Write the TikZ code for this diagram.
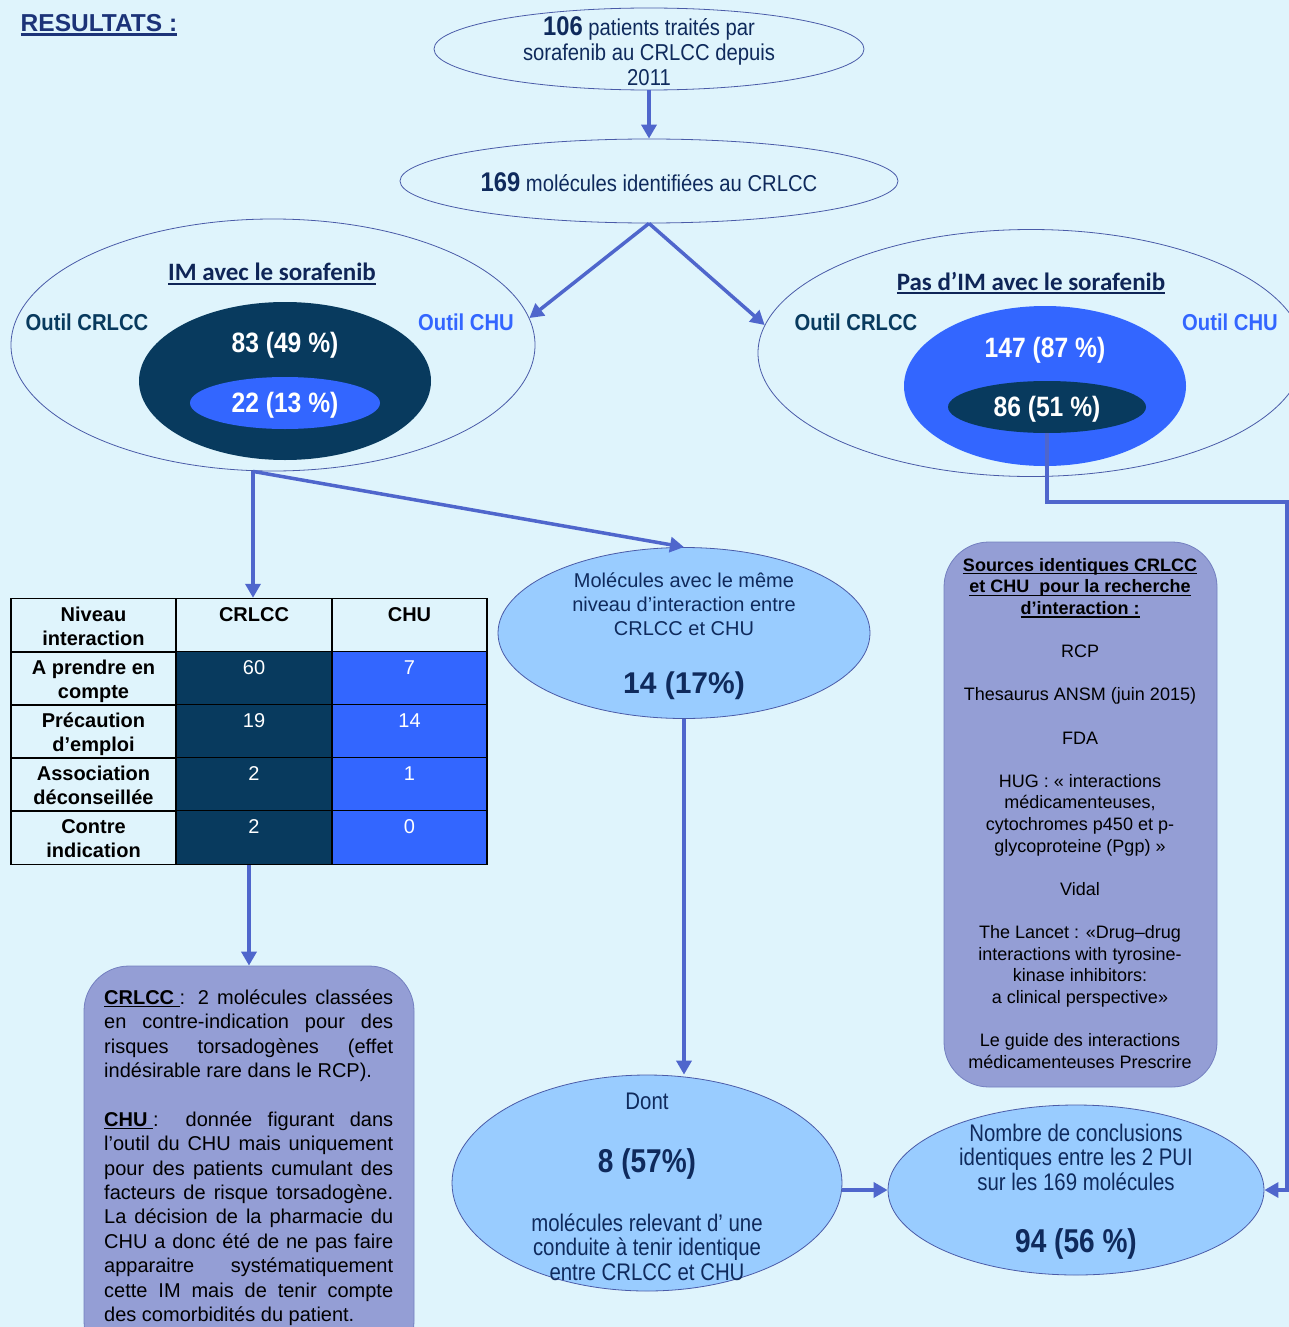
\documentclass[tikz,border=0pt]{standalone}
\usepackage{fontspec}
\setmainfont{Liberation Sans}
\newfontfamily\narrowA[FakeStretch=0.88]{Liberation Sans}
\newfontfamily\narrowB[FakeStretch=0.85]{Liberation Sans}
\newfontfamily\calib{Carlito}
\usetikzlibrary{shapes.geometric,arrows.meta,calc}
\definecolor{bgc}{HTML}{DFF4FC}
\definecolor{navy}{HTML}{083A5E}
\definecolor{bright}{HTML}{3366FF}
\definecolor{arrc}{HTML}{4F66CC}
\definecolor{lightc}{HTML}{99CCFF}
\definecolor{boxc}{HTML}{949ED5}
\definecolor{boxline}{HTML}{7480C0}
\definecolor{ellc}{HTML}{4A5BA8}
\definecolor{txtnavy}{HTML}{0F2A5C}
\definecolor{titlec}{HTML}{0F2557}
\definecolor{resc}{HTML}{1C3378}
\newcommand\myul[3]{\setbox0=\hbox{#3}\leavevmode\rlap{\rule[-#1]{\wd0}{#2}}\box0}
\newcommand\tstrut{\rule{0pt}{23pt}}
\begin{document}
\begin{tikzpicture}[x=1pt,y=-1pt,
  outell/.style={ellipse, draw=ellc, line width=0.8pt, inner sep=0},
  fillell/.style={ellipse, inner sep=0},
  lightell/.style={ellipse, draw=ellc, line width=0.8pt, fill=lightc, inner sep=0},
  arr/.style={draw=arrc, line width=3.5pt, -{Triangle[length=14pt,width=15pt]}},
  conn/.style={draw=arrc, line width=3.2pt, -{Triangle[length=14pt,width=15pt]}},
  tbox/.style={rectangle, rounded corners=45pt, draw=boxline, line width=0.8pt, fill=boxc, inner sep=0},
  lab/.style={rectangle, draw=black, line width=1.2pt, inner sep=0, minimum height=53, align=center, font=\fontsize{20}{24}\selectfont\bfseries, text=black},
  colA/.style={minimum width=165},
  colB/.style={minimum width=156},
  colC/.style={minimum width=155},
  darkcell/.style={fill=navy, text=white, font=\fontsize{20}{24}\selectfont},
  brightcell/.style={fill=bright, text=white, font=\fontsize{20}{24}\selectfont},
  outil/.style={font=\fontsize{23}{26}\selectfont\narrowA\bfseries, inner sep=0},
  bignum/.style={font=\fontsize{28}{30}\selectfont\narrowA\bfseries, text=white, inner sep=0},
  titl/.style={font=\fontsize{25}{30}\selectfont\calib\bfseries, text=titlec, inner sep=0}
]
\useasboundingbox (0,0) rectangle (1289,1327);
\clip (0,0) rectangle (1289,1327);
\fill[bgc] (0,0) rectangle (1289,1327);

% title
\node[font=\fontsize{24.5}{27}\selectfont\bfseries, text=resc, inner sep=0] (res) at (99,25) {\myul{4pt}{2.2pt}{RESULTATS :}};

% top ellipses
\node[outell, minimum width=430, minimum height=82] (e1) at (649,49) {};
\node[align=center, inner sep=0, text=txtnavy, font=\fontsize{23}{25}\selectfont\narrowA] (t1) at (649,51)
  {{\fontsize{27}{25}\selectfont\bfseries 106} patients traités par\\sorafenib au CRLCC depuis\\2011};
\node[outell, minimum width=498, minimum height=84] (e2) at (649,181) {};
\node[inner sep=0, text=txtnavy, font=\fontsize{23}{25}\selectfont\narrowA] (t2) at (649,182)
  {{\fontsize{27}{25}\selectfont\bfseries 169} molécules identifiées au CRLCC};

% left big ellipse
\node[outell, minimum width=524, minimum height=252] (L) at (273,345) {};
\node[titl] (Lt) at (272,274) {\myul{4pt}{1.6pt}{IM avec le sorafenib}};
\node[outil, text=navy] (Lo1) at (87,322) {Outil CRLCC};
\node[outil, text=bright] (Lo2) at (466,322) {Outil CHU};
\node[fillell, fill=navy, minimum width=292, minimum height=158] (Ld) at (285,381) {};
\node[bignum] (Ln) at (285,345) {83 (49 \%)};
\node[fillell, fill=bright, minimum width=190, minimum height=52] (Lb) at (285,403) {};
\node[bignum] (Lbn) at (285,405) {22 (13 \%)};

% right big ellipse
\node[outell, minimum width=546, minimum height=247] (R) at (1031,353) {};
\node[titl] (Rt) at (1031,283) {\myul{4pt}{1.6pt}{Pas d’IM avec le sorafenib}};
\node[outil, text=navy] (Ro1) at (856,322) {Outil CRLCC};
\node[outil, text=bright] (Ro2) at (1230,322) {Outil CHU};
\node[fillell, fill=bright, minimum width=282, minimum height=160] (Rb) at (1045,386) {};
\node[bignum] (Rbn) at (1045,350) {147 (87 \%)};
\node[fillell, fill=navy, minimum width=198, minimum height=52] (Rd) at (1047,407) {};
\node[bignum] (Rdn) at (1047,409) {86 (51 \%)};

% table
\node[lab,colA] (h0) at (93.5,625.5) {\tstrut Niveau\\\strut interaction};
\node[lab,colB] (h1) at (254,625.5) {\tstrut CRLCC\\\strut};
\node[lab,colC] (h2) at (409.5,625.5) {\tstrut CHU\\\strut};
\node[lab,colA] (r1a) at (93.5,678.5) {\tstrut A prendre en\\\strut compte};
\node[lab,colB,darkcell] (r1b) at (254,678.5) {\tstrut 60\\\strut};
\node[lab,colC,brightcell] (r1c) at (409.5,678.5) {\tstrut 7\\\strut};
\node[lab,colA] (r2a) at (93.5,731.5) {\tstrut Précaution\\\strut d’emploi};
\node[lab,colB,darkcell] (r2b) at (254,731.5) {\tstrut 19\\\strut};
\node[lab,colC,brightcell] (r2c) at (409.5,731.5) {\tstrut 14\\\strut};
\node[lab,colA] (r3a) at (93.5,784.5) {\tstrut Association\\\strut déconseillée};
\node[lab,colB,darkcell] (r3b) at (254,784.5) {\tstrut 2\\\strut};
\node[lab,colC,brightcell] (r3c) at (409.5,784.5) {\tstrut 1\\\strut};
\node[lab,colA] (r4a) at (93.5,837.5) {\tstrut Contre\\\strut indication};
\node[lab,colB,darkcell] (r4b) at (254,837.5) {\tstrut 2\\\strut};
\node[lab,colC,brightcell] (r4c) at (409.5,837.5) {\tstrut 0\\\strut};

% bottom-left box
\node[tbox, minimum width=330, minimum height=400] (BL) at (249,1166) {};
\node[anchor=north west, inner sep=0, align=left, text=black, font=\fontsize{20}{24.4}\selectfont] (BLt) at (104,987)
 {\makebox[289pt][s]{\strut\myul{3pt}{1.5pt}{\bfseries CRLCC\ }: 2 molécules classées}\\
  \makebox[289pt][s]{\strut en contre-indication pour des}\\
  \makebox[289pt][s]{\strut risques torsadogènes (effet}\\
  \strut indésirable rare dans le RCP).\\[24.4pt]
  \makebox[289pt][s]{\strut\myul{3pt}{1.5pt}{\bfseries CHU\ }: donnée figurant dans}\\
  \makebox[289pt][s]{\strut l’outil du CHU mais uniquement}\\
  \makebox[289pt][s]{\strut pour des patients cumulant des}\\
  \makebox[289pt][s]{\strut facteurs de risque torsadogène.}\\
  \makebox[289pt][s]{\strut La décision de la pharmacie du}\\
  \makebox[289pt][s]{\strut CHU a donc été de ne pas faire}\\
  \makebox[289pt][s]{\strut apparaitre systématiquement}\\
  \makebox[289pt][s]{\strut cette IM mais de tenir compte}\\
  \strut des comorbidités du patient.};

% sources box
\node[tbox, minimum width=273, minimum height=545] (S) at (1080.5,814.5) {};
\node[anchor=north, inner sep=0, align=center, text=black, font=\fontsize{18}{21.6}\selectfont] (St) at (1080,556)
 {\strut{\bfseries\myul{3pt}{1.2pt}{Sources identiques CRLCC}}\\
  {\bfseries\myul{3pt}{1.2pt}{et CHU\ \ pour la recherche}}\\
  {\bfseries\myul{3pt}{1.2pt}{d’interaction :}}\\[21.6pt]
  RCP\\[21.6pt]
  Thesaurus ANSM (juin 2015)\\[21.6pt]
  FDA\\[21.6pt]
  HUG : « interactions\\
  médicamenteuses,\\
  cytochromes p450 et p-\\
  glycoproteine (Pgp) »\\[21.6pt]
  Vidal\\[21.6pt]
  The Lancet : «Drug–drug\\
  interactions with tyrosine-\\
  kinase inhibitors:\\
  a clinical perspective»\\[21.6pt]
  Le guide des interactions\\
  médicamenteuses Prescrire};

% middle ellipse 1
\node[lightell, minimum width=372, minimum height=171] (M1) at (684,633) {};
\node[align=center, inner sep=0, text=txtnavy, font=\fontsize{20}{24}\selectfont] (M1t) at (684,604)
 {Molécules avec le même\\niveau d’interaction entre\\CRLCC et CHU};
\node[inner sep=0, text=txtnavy, font=\fontsize{30}{32}\selectfont\bfseries] (M1n) at (684,686) {14 (17\%)};

% middle ellipse 2
\node[lightell, minimum width=390, minimum height=216] (M2) at (647,1183) {};
\node[inner sep=0, text=txtnavy, font=\fontsize{24}{24.5}\selectfont\narrowB] (M2a) at (647,1101) {Dont};
\node[inner sep=0, text=txtnavy, font=\fontsize{33}{34}\selectfont\narrowB\bfseries] (M2n) at (647,1164) {8 (57\%)};
\node[align=center, inner sep=0, text=txtnavy, font=\fontsize{24}{24.5}\selectfont\narrowB] (M2t) at (647,1247)
 {molécules relevant d’ une\\conduite à tenir identique\\entre CRLCC et CHU};

% right bottom ellipse
\node[lightell, minimum width=376, minimum height=170] (M3) at (1076,1190) {};
\node[align=center, inner sep=0, text=txtnavy, font=\fontsize{24}{24.5}\selectfont\narrowB] (M3t) at (1076,1157)
 {Nombre de conclusions\\identiques entre les 2 PUI\\sur les 169 molécules};
\node[inner sep=0, text=txtnavy, font=\fontsize{33}{34}\selectfont\narrowB\bfseries] (M3n) at (1076,1244) {94 (56 \%)};

% connectors
\coordinate (lb) at ($(L.south)+(-20,0)$);
\coordinate (rc) at (1287,502);
\draw[arr] (e1.south) -- (e2.north);
\draw[arr] (e2.south) -- (L.6);
\draw[arr] (e2.south) -- (R.174);
\draw[arr] (lb) -- (lb |- h1.north);
\draw[arr] (lb) -- (M1.north);
\draw[arr] (r4b.south -| BL.north) -- (BL.north);
\draw[arr] (M1.south) -- (M1.south |- M2.north);
\draw[arr] (M2.east |- M3.west) -- (M3.west);
\draw[conn] (Rd.south) |- (rc) |- (M3.east);
\end{tikzpicture}
\end{document}
